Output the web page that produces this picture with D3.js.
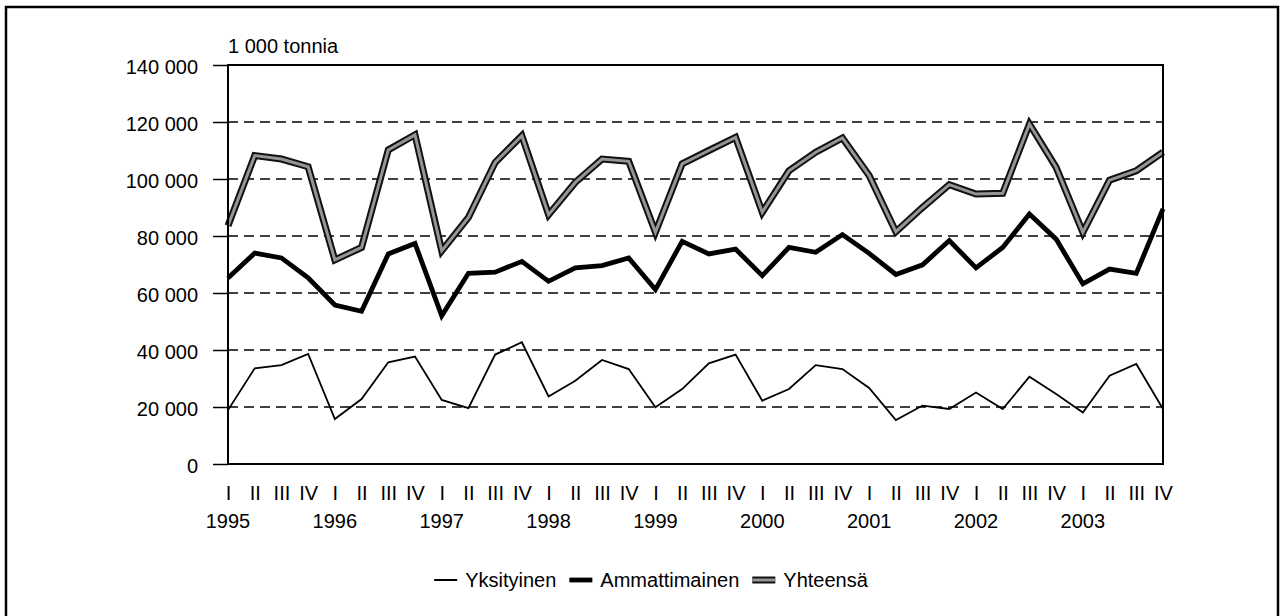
<!DOCTYPE html>
<meta charset="utf-8">
<style>
body { margin: 0; background: #fff; }
svg text {
  font-family: "Liberation Sans", Arial, Helvetica, sans-serif;
  font-size: 20px;
  fill: #000;
}
.grid line {
  stroke: #000;
  stroke-width: 1.3px;
  stroke-dasharray: 10, 6;
}
.frame {
  fill: none;
  stroke: #000;
  stroke-width: 2px;
}
</style>
<svg width="1281" height="616"></svg>
<script src="https://d3js.org/d3.v7.min.js"></script>
<script>

const quarters = ['I', 'II', 'III', 'IV'];
const years = [1995, 1996, 1997, 1998, 1999, 2000, 2001, 2002, 2003];
const yTicks = [0, 20000, 40000, 60000, 80000, 100000, 120000, 140000];

const yksityinen = [18900, 33600, 34700, 38600, 15800, 22800, 35700, 37700,
  22500, 19600, 38400, 42700, 23700, 29200, 36500, 33300,
  19900, 26300, 35300, 38400, 22200, 26300, 34700, 33300,
  26700, 15400, 20500, 19300, 25100, 19300, 30600, 24600,
  18100, 31000, 35100, 19300];

const ammattimainen = [65300, 74000, 72300, 65300, 55800, 53600, 73700, 77400,
  52000, 66900, 67300, 71100, 64100, 68800, 69600, 72300,
  61200, 78100, 73700, 75400, 66100, 76000, 74300, 80500,
  73900, 66500, 69900, 78400, 68800, 76000, 87700, 78900,
  63200, 68400, 66900, 89500];

const yhteensa = [83600, 108200, 107000, 104300, 71600, 76000, 110200, 115500,
  74800, 86500, 105800, 115200, 87500, 98800, 107000, 106200,
  81300, 105300, 110000, 114600, 88300, 102900, 109400, 114400,
  101200, 81500, 90000, 98000, 94700, 95000, 119300, 104100,
  81300, 99600, 102900, 109400];

const seriesNames = ['Yksityinen', 'Ammattimainen', 'Yhteensä'];

const svg = d3.select('svg');

// outer frame (bottom edge runs off the page)
svg.append('rect')
  .attr('x', 6).attr('y', 7)
  .attr('width', 1272).attr('height', 640)
  .attr('fill', 'none')
  .attr('stroke', '#000')
  .attr('stroke-width', 2.5);

const plotLeft = 228, plotRight = 1163, plotTop = 65, plotBottom = 464;

// quarter index -> label
const periods = [];
years.forEach(y => quarters.forEach(q => periods.push({ year: y, q: q })));

const x = d3.scalePoint()
  .domain(d3.range(periods.length))
  .range([plotLeft, plotRight]);

const y = d3.scaleLinear()
  .domain([0, 140000])
  .range([plotBottom, plotTop]);

const fi = d3.formatLocale({ decimal: ',', thousands: ' ', grouping: [3], currency: ['', ''] });
const fmt = fi.format(',');

// gridlines
svg.append('g')
  .attr('class', 'grid')
  .selectAll('line')
  .data(yTicks.filter(d => d > 0 && d < 140000))
  .enter().append('line')
    .attr('x1', plotLeft)
    .attr('x2', plotRight)
    .attr('y1', d => y(d))
    .attr('y2', d => y(d));

// y axis
const yAxis = svg.append('g')
  .attr('transform', `translate(${plotLeft},0)`)
  .call(d3.axisLeft(y).tickValues(yTicks).tickSize(15).tickPadding(15).tickFormat(fmt));
yAxis.select('.domain').remove();
yAxis.selectAll('.tick line').attr('stroke', '#000').attr('stroke-width', 1.5);
yAxis.selectAll('.tick text')
  .attr('font-family', null)
  .attr('font-size', null)
  .attr('dy', '0.4em');

// x axis labels
const xAxis = svg.append('g')
  .attr('transform', `translate(0,${plotBottom})`)
  .call(d3.axisBottom(x).tickSize(0).tickPadding(36).tickFormat(i => periods[i].q));
xAxis.select('.domain').remove();
xAxis.selectAll('.tick text')
  .attr('font-family', null)
  .attr('font-size', null)
  .attr('dy', null);

svg.append('g')
  .selectAll('text')
  .data(d3.range(periods.length).filter(i => periods[i].q === 'I'))
  .enter().append('text')
    .attr('x', d => x(d))
    .attr('y', 528)
    .attr('text-anchor', 'middle')
    .text(d => periods[d].year);

// unit label
svg.append('text')
  .attr('x', plotLeft)
  .attr('y', 53)
  .text('1 000 tonnia');

// lines
const line = d3.line()
  .x((d, i) => x(i))
  .y(d => y(d));

const lines = svg.append('g')
  .attr('fill', 'none')
  .attr('stroke-linejoin', 'miter')
  .attr('stroke-miterlimit', 4);

lines.append('path')
  .attr('d', line(yhteensa))
  .attr('stroke', '#111')
  .attr('stroke-width', 7);
lines.append('path')
  .attr('d', line(yhteensa))
  .attr('stroke', '#959595')
  .attr('stroke-width', 3);

lines.append('path')
  .attr('d', line(ammattimainen))
  .attr('stroke', '#000')
  .attr('stroke-width', 4.8);

lines.append('path')
  .attr('d', line(yksityinen))
  .attr('stroke', '#000')
  .attr('stroke-width', 1.8);

// plot frame
svg.append('rect')
  .attr('class', 'frame')
  .attr('x', plotLeft).attr('y', plotTop)
  .attr('width', plotRight - plotLeft).attr('height', plotBottom - plotTop);

// legend
const legend = svg.append('g');
let lx = 0;
const styles = [
  [{ c: '#000', w: 2 }],
  [{ c: '#000', w: 4.8 }],
  [{ c: '#111', w: 7 }, { c: '#959595', w: 3 }]
];
seriesNames.forEach((name, k) => {
  const g = legend.append('g').attr('transform', `translate(${lx},0)`);
  styles[k].forEach(s => {
    g.append('line')
      .attr('x1', 0).attr('x2', 23)
      .attr('y1', 0).attr('y2', 0)
      .attr('stroke', s.c)
      .attr('stroke-width', s.w);
  });
  const t = g.append('text')
    .attr('x', 31)
    .attr('y', 7)
    .text(name);
  lx += 31 + t.node().getComputedTextLength() + 13;
});
legend.attr('transform', `translate(${651 - (lx - 13) / 2},580)`);

</script>
